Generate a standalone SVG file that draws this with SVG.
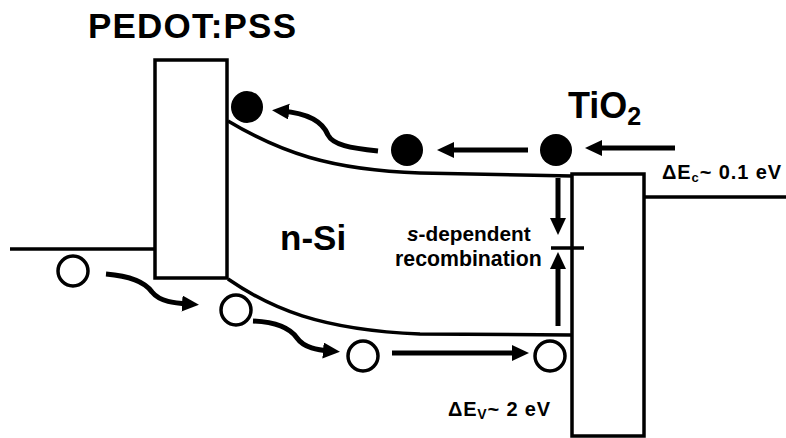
<svg xmlns="http://www.w3.org/2000/svg" width="786" height="438" viewBox="0 0 786 438">
<style>
.band{fill:none;stroke:#000;stroke-width:3.5}
.arr{fill:none;stroke:#000;stroke-width:5;marker-end:url(#ah)}
.el{fill:#000}
.hole{fill:#fff;stroke:#000;stroke-width:3.5}
text{font-family:"Liberation Sans",Arial,sans-serif;font-weight:bold;fill:#000}
</style>
<defs>
<marker id="ah" markerUnits="userSpaceOnUse" markerWidth="17" markerHeight="17" refX="7" refY="8" orient="auto">
<path d="M0,0 L17,8 L0,16 z" fill="#000"/>
</marker>
</defs>
<rect width="786" height="438" fill="#fff"/>
<g id="pedot">
<rect class="band" x="155" y="60" width="72" height="218"/>
<line class="band" x1="10" y1="249" x2="155" y2="249"/>
<text x="88" y="38" font-size="35" letter-spacing="1.2">PEDOT:PSS</text>
</g>
<g id="tio2">
<rect class="band" x="572" y="174" width="72" height="262"/>
<line class="band" x1="644" y1="197" x2="786" y2="197"/>
<text x="568" y="118" font-size="36">TiO<tspan font-size="25" dy="7">2</tspan></text>
<text x="662" y="179" font-size="20" textLength="119" lengthAdjust="spacing">ΔE<tspan font-size="13" dy="3">c</tspan><tspan dy="-3">~ 0.1 eV</tspan></text>
<text x="448" y="416" font-size="20" textLength="102" lengthAdjust="spacing">ΔE<tspan font-size="14" dy="3">V</tspan><tspan dy="-3">~ 2 eV</tspan></text>
</g>
<g id="nsi">
<path class="band" d="M228,121 C280,152 330,170 420,173 L572,176"/>
<path class="band" d="M228,279 C270,308 320,330 420,334 L572,335"/>
<text x="280" y="250" font-size="35">n-Si</text>
<text x="407" y="241" font-size="20.8"><tspan font-style="italic">s</tspan>-dependent</text>
<text x="395" y="266" font-size="21.3">recombination</text>
<line class="band" x1="551" y1="248" x2="584" y2="248"/>
</g>
<g id="electrons">
<circle class="el" cx="247" cy="107" r="16"/>
<circle class="el" cx="407" cy="150" r="16"/>
<circle class="el" cx="556" cy="150" r="16"/>
</g>
<g id="holes">
<circle class="hole" cx="73" cy="271" r="15"/>
<circle class="hole" cx="236" cy="310" r="15"/>
<circle class="hole" cx="363" cy="356" r="15"/>
<circle class="hole" cx="550" cy="356" r="15"/>
</g>
<g id="connectors">
<line class="arr" x1="675" y1="148" x2="595" y2="148"/>
<line class="arr" x1="528" y1="150" x2="447" y2="150"/>
<path class="arr" d="M378,151 C350,148 333,145 328,135 C322,120 305,113 282,111"/>
<path class="arr" d="M106,274 C130,276 145,282 152,292 C160,302 175,303 189,304"/>
<path class="arr" d="M253,321 C275,322 290,328 297,338 C304,348 318,350 330,351"/>
<line class="arr" x1="392" y1="353" x2="519" y2="353"/>
<line class="arr" x1="558" y1="178" x2="558" y2="225"/>
<line class="arr" x1="558" y1="326" x2="558" y2="262"/>
</g>
</svg>
